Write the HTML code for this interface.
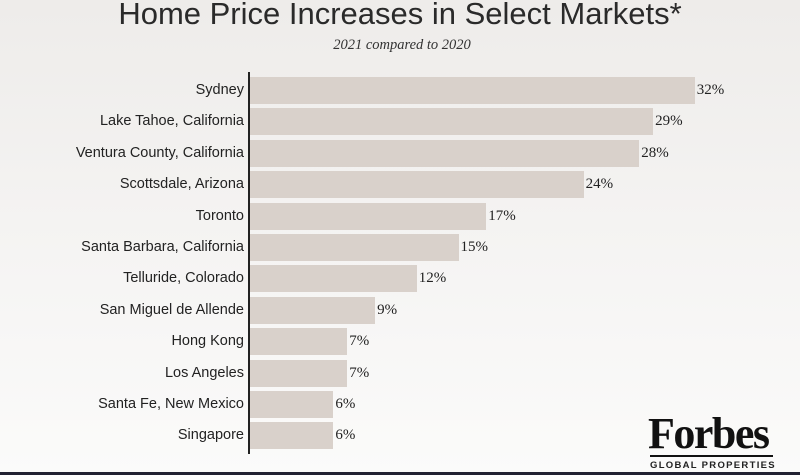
<!DOCTYPE html>
<html><head><style>
body{margin:0}
#c{position:relative;width:800px;height:475px;overflow:hidden;background:linear-gradient(#eeecea,#f6f5f4 60%,#fbfbfa);font-family:"Liberation Sans",sans-serif;color:#222}
.t{position:absolute;left:0;width:800px;text-align:center;top:-4px;font-size:31px;color:#2a2a2a}
.s{position:absolute;left:0;width:800px;text-align:center;top:37px;font:italic 14.5px "Liberation Serif",serif;color:#333;padding-left:4px;box-sizing:border-box}
.ax{position:absolute;left:248px;top:72px;width:2px;height:382px;background:#222}
.b{position:absolute;left:250px;height:27px;background:#d9d1cb}
.l{position:absolute;right:556px;font-size:14.5px;height:27px;line-height:27px;white-space:nowrap}
.v{position:absolute;font:15px "Liberation Serif",serif;height:27px;line-height:27px}
</style></head><body><div id="c">
<div class="t">Home Price Increases in Select Markets*</div>
<div class="s">2021 compared to 2020</div>
<div class="ax"></div>
<div id="bars"></div>
<div style="position:absolute;left:648px;top:408px;font:bold 44px 'Liberation Serif',serif;letter-spacing:-1.5px;color:#111">Forbes</div>
<div style="position:absolute;left:650px;top:455px;width:123px;height:2px;background:#111"></div>
<div style="position:absolute;left:650px;top:460px;font:bold 9.5px 'Liberation Sans',sans-serif;letter-spacing:1.3px;color:#222">GLOBAL PROPERTIES</div>
<div style="position:absolute;left:0;top:472px;width:800px;height:3px;background:#223"></div>
</div>
<script>
var d=[["Sydney",32],["Lake Tahoe, California",29],["Ventura County, California",28],["Scottsdale, Arizona",24],["Toronto",17],["Santa Barbara, California",15],["Telluride, Colorado",12],["San Miguel de Allende",9],["Hong Kong",7],["Los Angeles",7],["Santa Fe, New Mexico",6],["Singapore",6]];
var h="";d.forEach(function(r,i){var y=77+i*31.4,w=r[1]*13.9;
h+='<div class="b" style="top:'+y+'px;width:'+w+'px"></div><div class="l" style="top:'+y+'px">'+r[0]+'</div><div class="v" style="top:'+y+'px;left:'+(252+w)+'px">'+r[1]+'%</div>';});
document.getElementById("bars").innerHTML=h;
</script></body></html>
